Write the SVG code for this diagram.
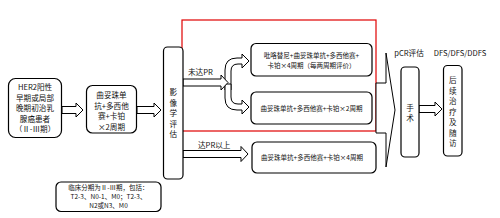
<svg xmlns="http://www.w3.org/2000/svg" width="500" height="218" viewBox="0 0 500 218">
<style>
.box{fill:#fff;stroke:#000;stroke-width:1.2}
.arr{fill:#fff;stroke:#000;stroke-width:1}
text{font-family:"Noto Sans CJK SC","Noto Sans",sans-serif;fill:#111;text-anchor:middle}
.t8{font-size:7.6px}
.t7{font-size:6.5px}
.lbl{font-size:7.6px;text-anchor:start}
</style>
<rect width="500" height="218" fill="#fff"/>
<g id="red-frame"><rect x="182" y="20" width="194" height="111" fill="none" stroke="#e00000" stroke-width="1.2"/></g>
<g id="connectors">
<path class="arr" d="M62,106.5 H76 V103 L83,110 L76,117 V113.5 H62 Z"/>
<path class="arr" d="M137,106.5 H154 V103 L161,110 L154,117 V113.5 H137 Z"/>
<path class="arr" d="M225,90 V70 Q225,58 237,58 H242 V54 L249,61 L242,68 V64 H238 Q231,64 231,71 V90 Z"/>
<path class="arr" d="M225,84 V98 Q225,110 237,110 H242 V114 L249,107 L242,100 V104 H238 Q231,104 231,97 V84 Z"/>
<path class="arr" d="M183,79 H221 V75 L228,82.5 L221,90 V86 H183 Z"/>
<path class="arr" d="M183,150.5 H241 V146.5 L248,154 L241,161.5 V157.5 H183 Z"/>
<path class="arr" d="M386,53 L395,110 L386,167 V133 H376 V83 H386 Z"/>
<path class="arr" d="M419,105.5 H435 V102 L442,109 L435,116 V112.5 H419 Z"/>
<text class="lbl" x="188" y="75">未达PR</text>
<text class="lbl" x="198" y="148">达PR以上</text>
</g>
<g id="n-patient">
<rect class="box" x="8.5" y="78.5" width="53" height="59" rx="7"/>
<text class="t8" x="35" y="90">HER2阳性</text>
<text class="t8" x="35" y="100.5">早期或局部</text>
<text class="t8" x="35" y="111">晚期初治乳</text>
<text class="t8" x="35" y="121.5">腺癌患者</text>
<text class="t8" x="35" y="132">（Ⅱ-Ⅲ期）</text>
</g>
<g id="n-induction">
<rect class="box" x="86.5" y="85.5" width="50" height="47.5" rx="6"/>
<text class="t8" x="111.5" y="98">曲妥珠单</text>
<text class="t8" x="111.5" y="108.5">抗+多西他</text>
<text class="t8" x="111.5" y="119">赛+卡铂</text>
<text class="t8" x="111.5" y="129.5">×2周期</text>
</g>
<g id="n-imaging">
<rect class="box" x="163.5" y="47" width="19.5" height="132" rx="4"/>
<text class="t8" x="173.3" y="95">影</text>
<text class="t8" x="173.3" y="105.5">像</text>
<text class="t8" x="173.3" y="116">学</text>
<text class="t8" x="173.3" y="126.5">评</text>
<text class="t8" x="173.3" y="137">估</text>
</g>
<g id="n-pyrotinib">
<rect class="box" x="251" y="43.5" width="121" height="32.5" rx="5"/>
<text class="t7" x="311.5" y="57.5">吡咯替尼+曲妥珠单抗+多西他赛+</text>
<text class="t7" x="311.5" y="67.5">卡铂×4周期（每两周期评价）</text>
</g>
<g id="n-2cycles">
<rect class="box" x="251" y="92" width="121" height="32" rx="5"/>
<text class="t7" x="311.5" y="110.5">曲妥珠单抗+多西他赛+卡铂×2周期</text>
</g>
<g id="n-4cycles">
<rect class="box" x="252" y="142" width="124" height="31" rx="5"/>
<text class="t7" x="312" y="159.5">曲妥珠单抗+多西他赛+卡铂×4周期</text>
</g>
<g id="n-surgery">
<text class="t8" x="409" y="56" style="text-anchor:middle">pCR评估</text>
<rect class="box" x="401" y="67" width="18" height="90" rx="4"/>
<text class="t8" x="410" y="110.5">手</text>
<text class="t8" x="410" y="121">术</text>
</g>
<g id="n-followup">
<text class="t8" x="460" y="56">DFS/DFS/DDFS</text>
<rect class="box" x="443.5" y="65.5" width="18.5" height="90.5" rx="4"/>
<text class="t8" x="452.7" y="83">后</text>
<text class="t8" x="452.7" y="93.5">续</text>
<text class="t8" x="452.7" y="104">治</text>
<text class="t8" x="452.7" y="114.5">疗</text>
<text class="t8" x="452.7" y="125">及</text>
<text class="t8" x="452.7" y="135.5">随</text>
<text class="t8" x="452.7" y="146">访</text>
</g>
<g id="n-note">
<rect class="box" x="56" y="182" width="105" height="29.5" rx="5"/>
<text class="t7" x="108.5" y="190">临床分期为Ⅱ-Ⅲ期，包括：</text>
<text class="t7" x="108.5" y="199">T2-3、N0-1、M0；T2-3、</text>
<text class="t7" x="108.5" y="208">N2或N3、M0</text>
</g>
</svg>
